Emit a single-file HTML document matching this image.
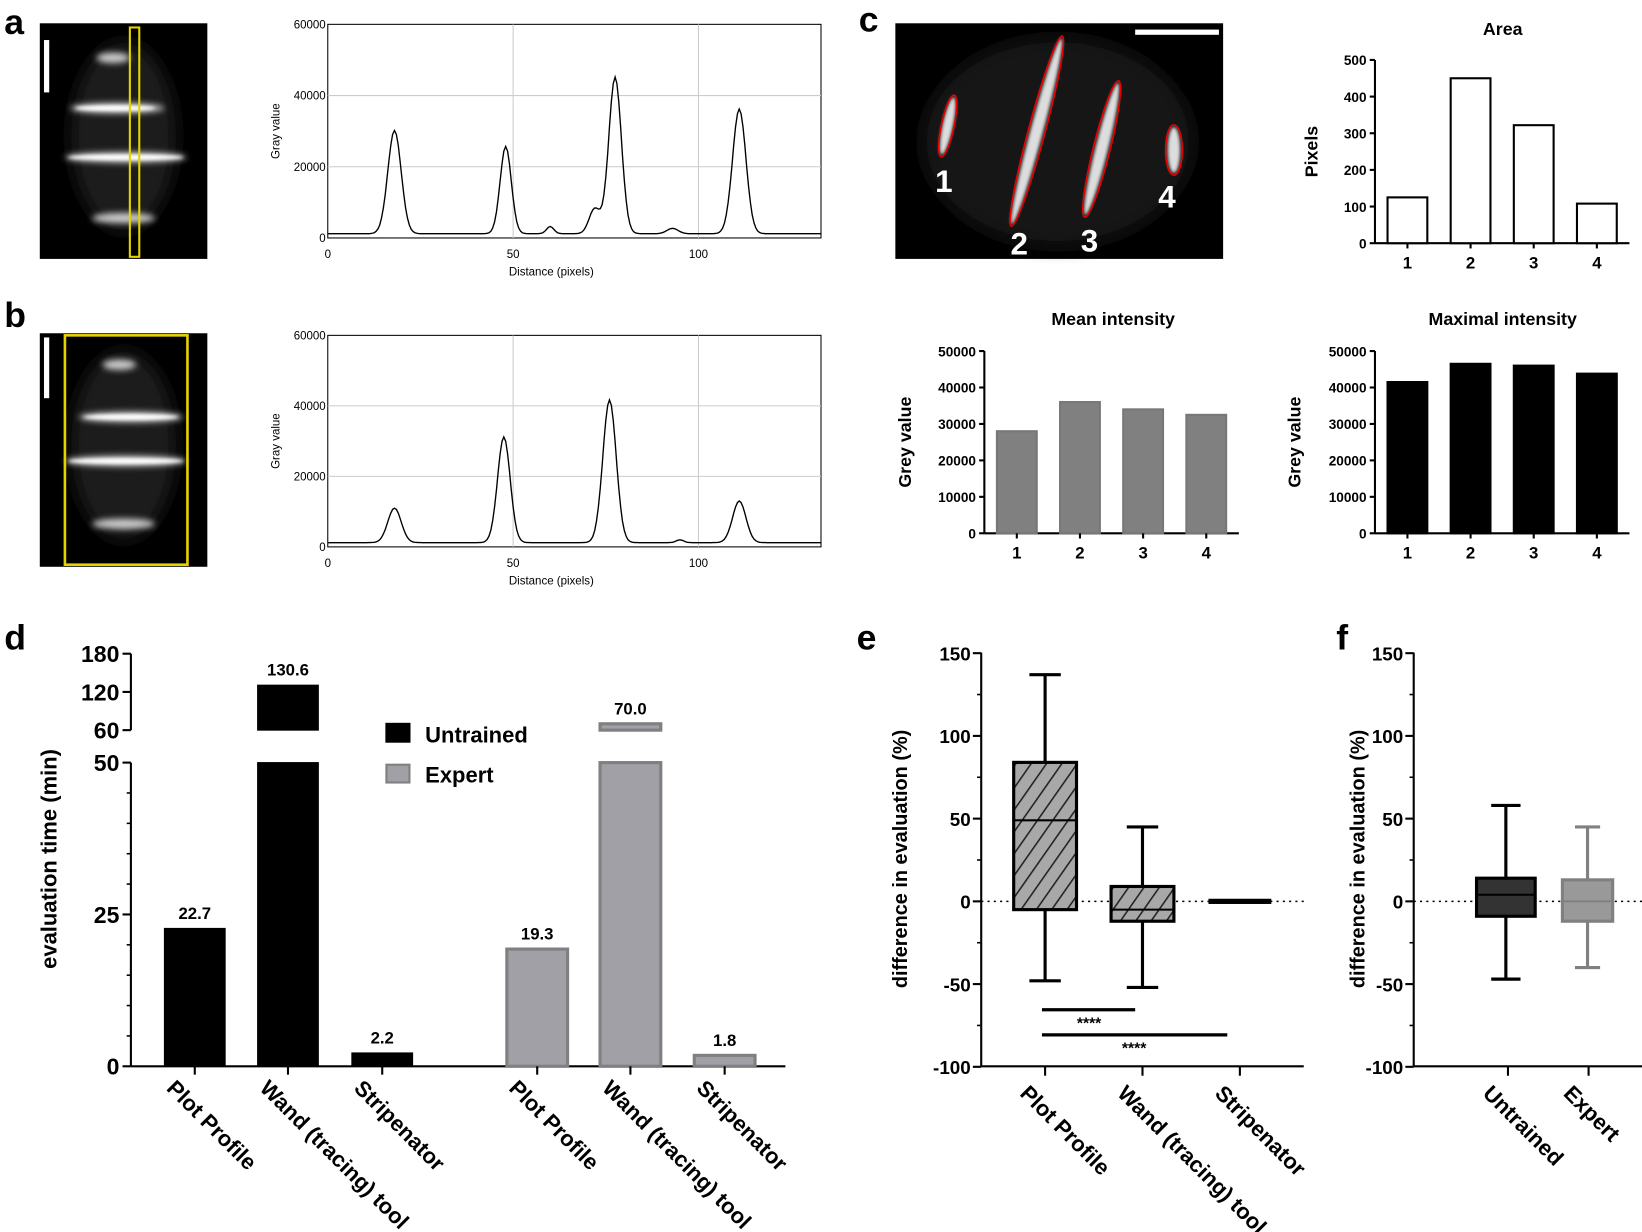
<!DOCTYPE html>
<html><head><meta charset="utf-8"><style>
html,body{margin:0;padding:0;background:#fff}
svg{display:block}
text{font-family:"Liberation Sans",Arial,sans-serif}
.b{font-weight:bold}
</style></head><body>
<svg id="s" width="1642" height="1232" viewBox="0 0 1568 1176" xmlns="http://www.w3.org/2000/svg">
<defs>
<filter id="bl" x="-20%" y="-50%" width="140%" height="200%"><feGaussianBlur stdDeviation="3"/></filter>
<filter id="bl4" x="-30%" y="-30%" width="160%" height="160%"><feGaussianBlur stdDeviation="8"/></filter>
<filter id="bl2"><feGaussianBlur stdDeviation="1.5"/></filter>
<pattern id="hat" width="12" height="12" patternUnits="userSpaceOnUse" patternTransform="rotate(35)">
<rect width="12" height="12" fill="#a8a8a8"/><line x1="0" y1="0" x2="0" y2="12" stroke="#222" stroke-width="3"/></pattern>
</defs>
<g class="b" font-size="34"><text x="4" y="32">a</text><text x="4" y="312">b</text><text x="820" y="30">c</text><text x="4" y="620">d</text><text x="818" y="620">e</text><text x="1276" y="620">f</text></g>

<!-- microscopy a -->
<rect x="38" y="22" width="160" height="225" fill="#000"/>
<g filter="url(#bl4)" fill="#1c1c1c"><ellipse cx="118" cy="130" rx="50" ry="90"/></g>
<g filter="url(#bl)" fill="#ccc">
<ellipse cx="108" cy="55" rx="16" ry="5"/><ellipse cx="112" cy="103" rx="45" ry="5"/>
<ellipse cx="120" cy="150" rx="58" ry="5"/><ellipse cx="118" cy="208" rx="30" ry="5"/>
</g>
<g filter="url(#bl2)" fill="#fff"><ellipse cx="110" cy="103" rx="38" ry="2.5"/><ellipse cx="120" cy="150" rx="55" ry="2.5"/></g>
<rect x="42" y="38" width="5" height="50" fill="#fff"/>
<rect x="124" y="26" width="9" height="219" fill="none" stroke="#e6d200" stroke-width="2"/>
<!-- microscopy b -->
<rect x="38" y="318" width="160" height="223" fill="#000"/>
<g filter="url(#bl4)" fill="#1c1c1c"><ellipse cx="118" cy="425" rx="50" ry="90"/></g>
<g filter="url(#bl)" fill="#ccc">
<ellipse cx="114" cy="348" rx="16" ry="5"/><ellipse cx="125" cy="398" rx="50" ry="5"/>
<ellipse cx="120" cy="440" rx="58" ry="5"/><ellipse cx="118" cy="500" rx="30" ry="5"/>
</g>
<g filter="url(#bl2)" fill="#fff"><ellipse cx="125" cy="398" rx="45" ry="2.5"/><ellipse cx="120" cy="440" rx="55" ry="2.5"/></g>
<rect x="42" y="322" width="5" height="58" fill="#fff"/>
<rect x="62" y="320" width="117" height="219" fill="none" stroke="#e6d200" stroke-width="2.5"/>

<g id="pa"></g><g id="pb"></g>

<!-- microscopy c -->
<rect x="855" y="22" width="313" height="225" fill="#000"/>
<g filter="url(#bl4)" fill="#151515"><ellipse cx="1010" cy="135" rx="130" ry="100"/></g>
<g filter="url(#bl2)" fill="#ddd">
<ellipse cx="905" cy="120" rx="5" ry="28" transform="rotate(12 905 120)"/>
<ellipse cx="990" cy="125" rx="6" ry="92" transform="rotate(15 990 125)"/>
<ellipse cx="1052" cy="142" rx="6" ry="65" transform="rotate(14 1052 142)"/>
<ellipse cx="1121" cy="143" rx="6" ry="22"/>
</g>
<g fill="none" stroke="#e00" stroke-width="1.5">
<ellipse cx="905" cy="120" rx="6" ry="30" transform="rotate(12 905 120)"/>
<ellipse cx="990" cy="125" rx="8" ry="94" transform="rotate(15 990 125)"/>
<ellipse cx="1052" cy="142" rx="8" ry="67" transform="rotate(14 1052 142)"/>
<ellipse cx="1121" cy="143" rx="8" ry="24"/>
</g>
<rect x="1084" y="28" width="80" height="5" fill="#fff"/>
<g class="b" fill="#fff" font-size="30"><text x="893" y="183">1</text><text x="965" y="243">2</text><text x="1032" y="240">3</text><text x="1106" y="198">4</text></g>

<g id="cc"></g>
<g id="dd"></g>
<g id="ee"></g>
</svg>
<script>
var NS="http://www.w3.org/2000/svg";
function el(p,t,a,txt){var e=document.createElementNS(NS,t);for(var k in a)e.setAttribute(k,a[k]);if(txt!==undefined)e.textContent=txt;p.appendChild(e);return e;}
function G(id){return document.getElementById(id);}
function profile(g,top,bot,peaks){
 var L=313,R=784,H=bot-top;
 el(g,'rect',{x:L,y:top,width:R-L,height:H,fill:'none',stroke:'#000','stroke-width':1});
 [20000,40000].forEach(function(v){var y=bot-v/60000*H;el(g,'line',{x1:L,x2:R,y1:y,y2:y,stroke:'#ccc'});});
 [50,100].forEach(function(v){var x=L+v*3.54;el(g,'line',{x1:x,x2:x,y1:top,y2:bot,stroke:'#ccc'});});
 [0,20000,40000,60000].forEach(function(v){var y=bot-v/60000*H;el(g,'text',{x:L-2,y:y+4,'font-size':11,'text-anchor':'end'},v);});
 [0,50,100].forEach(function(v){el(g,'text',{x:L+v*3.54,y:bot+19,'font-size':11,'text-anchor':'middle'},v);});
 el(g,'text',{x:(L+548)/2+96,y:bot+36,'font-size':11,'text-anchor':'middle'},'Distance (pixels)');
 el(g,'text',{transform:'translate('+(L-46)+','+(top+H/2)+') rotate(-90)','font-size':11,'text-anchor':'middle'},'Gray value');
 var d='';for(var x=0;x<=133;x+=0.5){var v=1200;peaks.forEach(function(p){v+=p[1]*Math.exp(-Math.pow((x-p[0])/p[2],2)/2);});
  d+=(x?'L':'M')+(L+x*3.54).toFixed(1)+','+(bot-v/60000*H).toFixed(1);}
 el(g,'path',{d:d,fill:'none',stroke:'#000','stroke-width':1.3});
}
profile(G('pa'),23,227,[[18,29000,1.8],[48,24500,1.5],[60,2000,1],[72,7000,1.5],[77.5,44000,1.7],[93,1500,1.5],[111,35000,1.8]]);
profile(G('pb'),320,522,[[18,9800,1.8],[47.5,30000,1.7],[76,40500,1.8],[95,800,1],[111,11800,1.8]]);

function bars(g,ax,top,bot,max,step,vals,fill,stroke,title,tx,ty,yl,ylx){
 var H=bot-top;
 el(g,'line',{x1:ax,x2:ax,y1:top,y2:bot,stroke:'#000','stroke-width':2});
 el(g,'line',{x1:ax,x2:ax+243,y1:bot,y2:bot,stroke:'#000','stroke-width':2});
 for(var v=0;v<=max;v+=step){var y=bot-v/max*H;el(g,'line',{x1:ax-5,x2:ax,y1:y,y2:y,stroke:'#000','stroke-width':2});
  el(g,'text',{x:ax-8,y:y+5,'font-size':13,'text-anchor':'end',class:'b'},v);}
 vals.forEach(function(v,i){var x=ax+12+i*60.3;var y=bot-v/max*H;
  el(g,'rect',{x:x,y:y,width:38,height:bot-y,fill:fill,stroke:stroke,'stroke-width':2});
  el(g,'line',{x1:x+19,x2:x+19,y1:bot,y2:bot+5,stroke:'#000','stroke-width':2});
  el(g,'text',{x:x+19,y:bot+24,'font-size':16,'text-anchor':'middle',class:'b'},i+1);});
 el(g,'text',{x:tx,y:ty,'font-size':17,'text-anchor':'middle',class:'b'},title);
 el(g,'text',{transform:'translate('+ylx+','+(top+H/2)+') rotate(-90)','font-size':17,'text-anchor':'middle',class:'b'},yl);
}
var cc=G('cc');
bars(cc,1313,57,232,500,100,[125,450,322,108],'#fff','#000','Area',1435,33,'Pixels',1258);
bars(cc,940,335,509,50000,10000,[28000,36000,34000,32500],'#808080','#777','Mean intensity',1063,310,'Grey value',870);
bars(cc,1313,335,509,50000,10000,[41500,46500,46000,43800],'#000','#000','Maximal intensity',1435,310,'Grey value',1242);

// panel d
var d=G('dd');
var b0=1018,y50=728;function ly(v){return b0-v/50*(b0-y50);}function uy(v){return 697-(v-60)/60*36.5;}
el(d,'line',{x1:125,x2:125,y1:728,y2:1018,stroke:'#000','stroke-width':2});
el(d,'line',{x1:125,x2:125,y1:624,y2:697,stroke:'#000','stroke-width':2});
el(d,'line',{x1:125,x2:750,y1:1018,y2:1018,stroke:'#000','stroke-width':2});
[[0,ly(0)],[25,ly(25)],[50,ly(50)],[60,uy(60)],[120,uy(120)],[180,uy(180)]].forEach(function(t){
 el(d,'line',{x1:117,x2:125,y1:t[1],y2:t[1],stroke:'#000','stroke-width':2});
 el(d,'text',{x:114,y:t[1]+8,'font-size':22,'text-anchor':'end',class:'b'},t[0]);});
[5,10,15,20,30,35,40,45].forEach(function(v){el(d,'line',{x1:121,x2:125,y1:ly(v),y2:ly(v),stroke:'#000','stroke-width':1.5});});
el(d,'text',{transform:'translate(54,820) rotate(-90)','font-size':21,'text-anchor':'middle',class:'b'},'evaluation time (min)');
var dbars=[[157,22.7,'22.7',0],[246,130.6,'130.6',0],[336,2.2,'2.2',0],[484,19.3,'19.3',1],[573,70,'70.0',1],[663,1.8,'1.8',1]];
var names=['Plot Profile','Wand (tracing) tool','Stripenator'];
dbars.forEach(function(b,i){var x=b[0],w=58,f=b[3]?'#a0a0a6':'#000',s=b[3]?'#808080':'#000';
 if(b[1]<=50){var y=ly(b[1]);el(d,'rect',{x:x,y:y,width:w,height:b0-y,fill:f,stroke:s,'stroke-width':b[3]?3:1});el(d,'text',{x:x+w/2,y:y-9,'font-size':16,'text-anchor':'middle',class:'b'},b[2]);}
 else{el(d,'rect',{x:x,y:y50,width:w,height:b0-y50,fill:f,stroke:s,'stroke-width':b[3]?3:1});
  var uyv=uy(b[1]);el(d,'rect',{x:x,y:uyv,width:w,height:697-uyv,fill:f,stroke:s,'stroke-width':b[3]?3:1});
  el(d,'text',{x:x+w/2,y:uyv-9,'font-size':16,'text-anchor':'middle',class:'b'},b[2]);}
 el(d,'line',{x1:x+w/2,x2:x+w/2,y1:b0,y2:b0+8,stroke:'#000','stroke-width':2});
 var cx=x+w/2;el(d,'text',{transform:'translate('+(cx-28)+',1040) rotate(45)','font-size':21,class:'b'},names[i%3]);
});
el(d,'rect',{x:368,y:690,width:24,height:19,fill:'#000'});
el(d,'rect',{x:369,y:730,width:22,height:17,fill:'#a0a0a6',stroke:'#808080','stroke-width':2});
el(d,'text',{x:406,y:709,'font-size':21,class:'b'},'Untrained');
el(d,'text',{x:406,y:747,'font-size':21,class:'b'},'Expert');

// panels e, f
var e=G('ee');
function py(v){return 860.5-v*1.58;}
function axisBox(ax,xr,lblx){
 el(e,'line',{x1:ax,x2:ax,y1:623,y2:1018,stroke:'#000','stroke-width':2});
 el(e,'line',{x1:ax,x2:xr,y1:1018,y2:1018,stroke:'#000','stroke-width':2});
 el(e,'line',{x1:ax,x2:xr,y1:860.5,y2:860.5,stroke:'#000','stroke-width':1.5,'stroke-dasharray':'2,4'});
 [150,100,50,0,-50,-100].forEach(function(v){var y=py(v);el(e,'line',{x1:ax-8,x2:ax,y1:y,y2:y,stroke:'#000','stroke-width':2});
  el(e,'text',{x:ax-10,y:y+7,'font-size':18,'text-anchor':'end',class:'b'},v);});
 [125,75,25,-25,-75].forEach(function(v){el(e,'line',{x1:ax-4,x2:ax,y1:py(v),y2:py(v),stroke:'#000','stroke-width':1.5});});
 el(e,'text',{transform:'translate('+lblx+',820) rotate(-90)','font-size':19,'text-anchor':'middle',class:'b'},'difference in evaluation (%)');
}
function box(cx,w,q1,m,q3,lo,hi,fill,s){
 el(e,'line',{x1:cx,x2:cx,y1:py(hi),y2:py(lo),stroke:s,'stroke-width':3});
 el(e,'line',{x1:cx-w/4,x2:cx+w/4,y1:py(hi),y2:py(hi),stroke:s,'stroke-width':3});
 el(e,'line',{x1:cx-w/4,x2:cx+w/4,y1:py(lo),y2:py(lo),stroke:s,'stroke-width':3});
 el(e,'rect',{x:cx-w/2,y:py(q3),width:w,height:py(q1)-py(q3),fill:fill,stroke:s,'stroke-width':3});
 el(e,'line',{x1:cx-w/2,x2:cx+w/2,y1:py(m),y2:py(m),stroke:s,'stroke-width':2});
}
axisBox(937,1245,866);
box(998,60,-5,49,84,-48,137,'url(#hat)','#000');
box(1091,60,-12,-5,9,-52,45,'url(#hat)','#000');
el(e,'rect',{x:1154,y:858,width:60,height:5,fill:'#000'});
[998,1091,1184].forEach(function(x,i){el(e,'line',{x1:x,x2:x,y1:1018,y2:1027,stroke:'#000','stroke-width':2});
 el(e,'text',{transform:'translate('+(x-25)+',1045) rotate(45)','font-size':21,class:'b'},names[i]);});
el(e,'line',{x1:995,x2:1084,y1:964,y2:964,stroke:'#000','stroke-width':3});
el(e,'line',{x1:995,x2:1172,y1:988,y2:988,stroke:'#000','stroke-width':3});
el(e,'text',{x:1040,y:982,'font-size':15,'text-anchor':'middle',class:'b'},'****');
el(e,'text',{x:1083,y:1006,'font-size':15,'text-anchor':'middle',class:'b'},'****');
axisBox(1350,1568,1303);
box(1438,56,-9,4,14,-47,58,'#333','#000');
box(1516,48,-12,0,13,-40,45,'#999','#808080');
[[1440,'Untrained'],[1517,'Expert']].forEach(function(t){el(e,'line',{x1:t[0],x2:t[0],y1:1018,y2:1027,stroke:'#000','stroke-width':2});
 el(e,'text',{transform:'translate('+(t[0]-25)+',1045) rotate(45)','font-size':21,class:'b'},t[1]);});
</script>
</body></html>
